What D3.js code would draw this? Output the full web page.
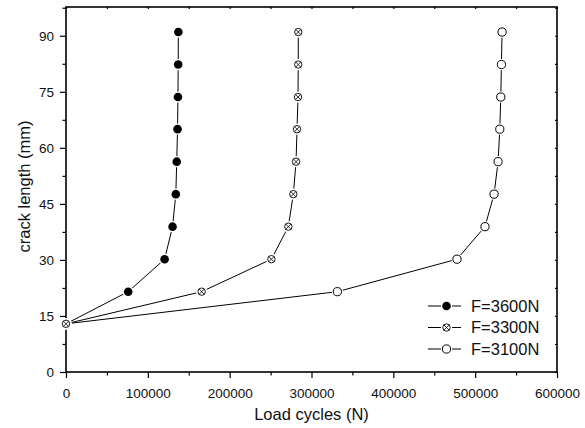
<!DOCTYPE html>
<html>
<head>
<meta charset="utf-8">
<script src="https://cdn.jsdelivr.net/npm/d3@7"></script>
<style>
  html, body { margin: 0; padding: 0; background: #fff; }
  svg { display: block; font-family: "Liberation Sans", Arial, sans-serif; }
</style>
</head>
<body>
<svg id="chart" width="585" height="428"></svg>
<script>
// Crack length (mm) at each measurement step
const crackLength = [12.9, 21.5, 30.2, 38.9, 47.6, 56.3, 65.0, 73.6, 82.3, 91.0];
// Load cycles reached for each load level
const cyclesF3600 = [0, 76000, 120500, 130200, 134200, 135300, 136300, 136800, 137100, 137300];
const cyclesF3300 = [0, 165800, 251000, 271700, 277800, 281100, 282300, 283500, 283800, 283900];
const cyclesF3100 = [0, 331600, 477800, 512000, 523100, 528000, 530100, 531300, 532100, 532900];
const seriesNames = ["F=3600N", "F=3300N", "F=3100N"];
const xTicks = [0, 100000, 200000, 300000, 400000, 500000, 600000];
const yTicks = [0, 15, 30, 45, 60, 75, 90];

const svg = d3.select("#chart");
const mLeft = 66, mRight = 557, mTop = 7, mBottom = 372;

const x = d3.scaleLinear().domain([0, 600000]).range([mLeft, mRight]);
const y = d3.scaleLinear().domain([0, 97.7]).range([mBottom, mTop]);

const xMinor = d3.range(50000, 600000, 100000);
const yMinor = d3.range(7.5, 97.6, 15);

// ---- axes ----
function styleAxis(g) {
  g.select(".domain").remove();
  g.selectAll("line").attr("stroke", "#000").attr("stroke-width", 1.2);
}

// bottom: major ticks with labels
svg.append("g")
  .attr("transform", `translate(0,${mBottom})`)
  .call(d3.axisBottom(x).tickValues(xTicks).tickSize(6).tickPadding(10).tickFormat(d3.format("d")))
  .call(styleAxis)
  .call(g => g.selectAll("text").attr("font-size", 13.5).attr("fill", "#111")
    .attr("font-family", "Liberation Sans, Arial, sans-serif"));
svg.append("g")
  .attr("transform", `translate(0,${mBottom})`)
  .call(d3.axisBottom(x).tickValues(xMinor).tickSize(3.5).tickFormat(""))
  .call(styleAxis);

// left: major ticks with labels
svg.append("g")
  .attr("transform", `translate(${mLeft},0)`)
  .call(d3.axisLeft(y).tickValues(yTicks).tickSize(6).tickPadding(6).tickFormat(d3.format("d")))
  .call(styleAxis)
  .call(g => g.selectAll("text").attr("font-size", 13.5).attr("fill", "#111")
    .attr("font-family", "Liberation Sans, Arial, sans-serif"));
svg.append("g")
  .attr("transform", `translate(${mLeft},0)`)
  .call(d3.axisLeft(y).tickValues(yMinor).tickSize(3.5).tickFormat(""))
  .call(styleAxis);

// top and right: short inward ticks
svg.append("g")
  .attr("transform", `translate(0,${mTop})`)
  .call(d3.axisBottom(x).tickValues(xTicks.concat(xMinor)).tickSize(2).tickFormat(""))
  .call(styleAxis);
svg.append("g")
  .attr("transform", `translate(${mRight},0)`)
  .call(d3.axisLeft(y).tickValues(yTicks.concat(yMinor)).tickSize(2).tickFormat(""))
  .call(styleAxis);

// frame
svg.append("rect")
  .attr("x", mLeft).attr("y", mTop)
  .attr("width", mRight - mLeft).attr("height", mBottom - mTop)
  .attr("fill", "none").attr("stroke", "#000").attr("stroke-width", 1.6);

// axis titles
svg.append("text")
  .attr("x", (mLeft + mRight) / 2).attr("y", 420)
  .attr("text-anchor", "middle").attr("font-size", 16.5).attr("fill", "#111")
  .text("Load cycles (N)");
svg.append("text")
  .attr("transform", `translate(30,${(mTop + mBottom) / 2 - 3}) rotate(-90)`)
  .attr("text-anchor", "middle").attr("font-size", 16.5).attr("fill", "#111")
  .text("crack length (mm)");

// ---- markers ----
function drawMarker(g, cx, cy, kind) {
  // white halo leaves a small gap where the line meets the symbol
  g.append("circle").attr("cx", cx).attr("cy", cy).attr("r", 5.6).attr("fill", "#fff");
  if (kind === 0) {
    g.append("circle").attr("cx", cx).attr("cy", cy).attr("r", 4.3).attr("fill", "#000");
  } else if (kind === 1) {
    const r = 3.7;
    g.append("circle").attr("cx", cx).attr("cy", cy).attr("r", r)
      .attr("fill", "#fff").attr("stroke", "#000").attr("stroke-width", 0.9);
    const d = r * Math.SQRT1_2;
    g.append("path")
      .attr("d", `M${cx - d},${cy - d}L${cx + d},${cy + d}M${cx - d},${cy + d}L${cx + d},${cy - d}`)
      .attr("stroke", "#000").attr("stroke-width", 0.8);
  } else {
    g.append("circle").attr("cx", cx).attr("cy", cy).attr("r", 4.1)
      .attr("fill", "#fff").attr("stroke", "#000").attr("stroke-width", 1);
  }
}

const line = d3.line().x(d => x(d[0])).y(d => y(d[1]));
const seriesData = [cyclesF3600, cyclesF3300, cyclesF3100].map(s => s.map((c, i) => [c, crackLength[i]]));

// lines first, then symbols; draw order puts F=3300N symbols on top at the origin
const plot = svg.append("g");
seriesData.forEach(data => {
  plot.append("path").datum(data).attr("d", line)
    .attr("fill", "none").attr("stroke", "#000").attr("stroke-width", 1);
});
[0, 2, 1].forEach(k => {
  const g = plot.append("g");
  seriesData[k].forEach(d => drawMarker(g, x(d[0]), y(d[1]), k));
});

// ---- legend ----
const legend = svg.append("g");
const legY = [306, 327.5, 349];
seriesNames.forEach((name, k) => {
  const ly = legY[k];
  legend.append("line").attr("x1", 428).attr("x2", 461).attr("y1", ly).attr("y2", ly)
    .attr("stroke", "#000").attr("stroke-width", 1);
  drawMarker(legend, 446.5, ly, k);
  legend.append("text").attr("x", 471).attr("y", ly).attr("dy", "0.35em")
    .attr("font-size", 16.5).attr("fill", "#111").text(name);
});
</script>
</body>
</html>
